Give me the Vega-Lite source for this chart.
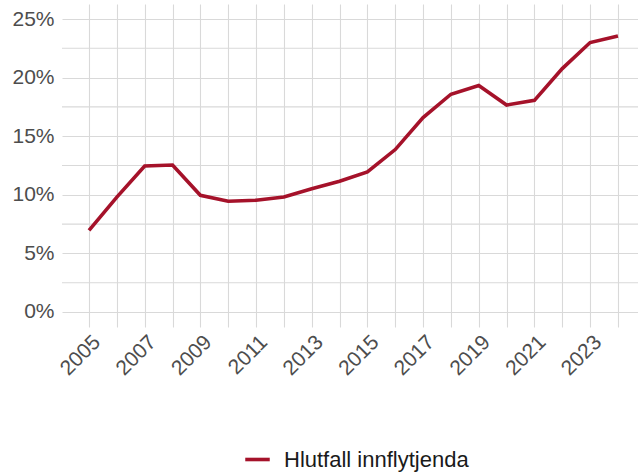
{
  "$schema": "https://vega.github.io/schema/vega-lite/v6.json",
  "autosize": "none",
  "width": 576,
  "height": 323,
  "padding": {"left": 62, "top": 4, "right": 0, "bottom": 146},
  "background": "white",
  "config": {
    "view": {"stroke": null},
    "font": "Liberation Sans",
    "axis": {"domain": false, "ticks": false, "gridColor": "#d9d9d9", "gridWidth": 1.1, "labelColor": "#4d4d4d", "labelFont": "Liberation Sans", "labelFontSize": 21, "title": null}
  },
  "data": {"values": [
    {"year": 2005, "value": 0.0697, "series": "Hlutfall innflytjenda"},
    {"year": 2006, "value": 0.098, "series": "Hlutfall innflytjenda"},
    {"year": 2007, "value": 0.1246, "series": "Hlutfall innflytjenda"},
    {"year": 2008, "value": 0.1254, "series": "Hlutfall innflytjenda"},
    {"year": 2009, "value": 0.0996, "series": "Hlutfall innflytjenda"},
    {"year": 2010, "value": 0.0945, "series": "Hlutfall innflytjenda"},
    {"year": 2011, "value": 0.0953, "series": "Hlutfall innflytjenda"},
    {"year": 2012, "value": 0.0981, "series": "Hlutfall innflytjenda"},
    {"year": 2013, "value": 0.1052, "series": "Hlutfall innflytjenda"},
    {"year": 2014, "value": 0.1115, "series": "Hlutfall innflytjenda"},
    {"year": 2015, "value": 0.1195, "series": "Hlutfall innflytjenda"},
    {"year": 2016, "value": 0.1386, "series": "Hlutfall innflytjenda"},
    {"year": 2017, "value": 0.1659, "series": "Hlutfall innflytjenda"},
    {"year": 2018, "value": 0.1858, "series": "Hlutfall innflytjenda"},
    {"year": 2019, "value": 0.1932, "series": "Hlutfall innflytjenda"},
    {"year": 2020, "value": 0.1766, "series": "Hlutfall innflytjenda"},
    {"year": 2021, "value": 0.1806, "series": "Hlutfall innflytjenda"},
    {"year": 2022, "value": 0.2077, "series": "Hlutfall innflytjenda"},
    {"year": 2023, "value": 0.2299, "series": "Hlutfall innflytjenda"},
    {"year": 2024, "value": 0.2355, "series": "Hlutfall innflytjenda"}
  ]},
  "layer": [
    {
      "mark": {"type": "rule", "color": "#d9d9d9", "strokeWidth": 1.1},
      "data": {"values": [{"y": 0.025}, {"y": 0.075}, {"y": 0.125}, {"y": 0.175}, {"y": 0.225}]},
      "encoding": {"y": {"field": "y", "type": "quantitative"}}
    },
    {
      "mark": {"type": "line", "strokeWidth": 3.6, "strokeJoin": "miter"},
      "encoding": {
        "x": {"field": "year", "type": "quantitative",
          "scale": {"domain": [2004.03, 2024.72], "nice": false, "zero": false},
          "axis": {"values": [2005,2006,2007,2008,2009,2010,2011,2012,2013,2014,2015,2016,2017,2018,2019,2020,2021,2022,2023,2024],
                   "labelExpr": "datum.value % 2 == 1 ? format(datum.value, 'd') : ''",
                   "labelAngle": -45, "labelAlign": "right", "labelBaseline": "top", "labelPadding": 4, "labelOverlap": false}},
        "y": {"field": "value", "type": "quantitative",
          "scale": {"domain": [-0.0128, 0.2628], "nice": false, "zero": false},
          "axis": {"values": [0, 0.05, 0.1, 0.15, 0.2, 0.25], "format": ".0%", "labelPadding": 8}},
        "color": {"field": "series", "type": "nominal",
          "scale": {"range": ["#a5122a"]},
          "legend": {"title": null, "orient": "none", "legendX": 181, "legendY": 441, "symbolType": "stroke", "symbolStrokeWidth": 3.6, "symbolSize": 600, "labelFontSize": 22, "labelLimit": 0, "labelColor": "#1a1a1a", "labelFont": "Liberation Sans", "labelOffset": 12}}
      }
    }
  ]
}
